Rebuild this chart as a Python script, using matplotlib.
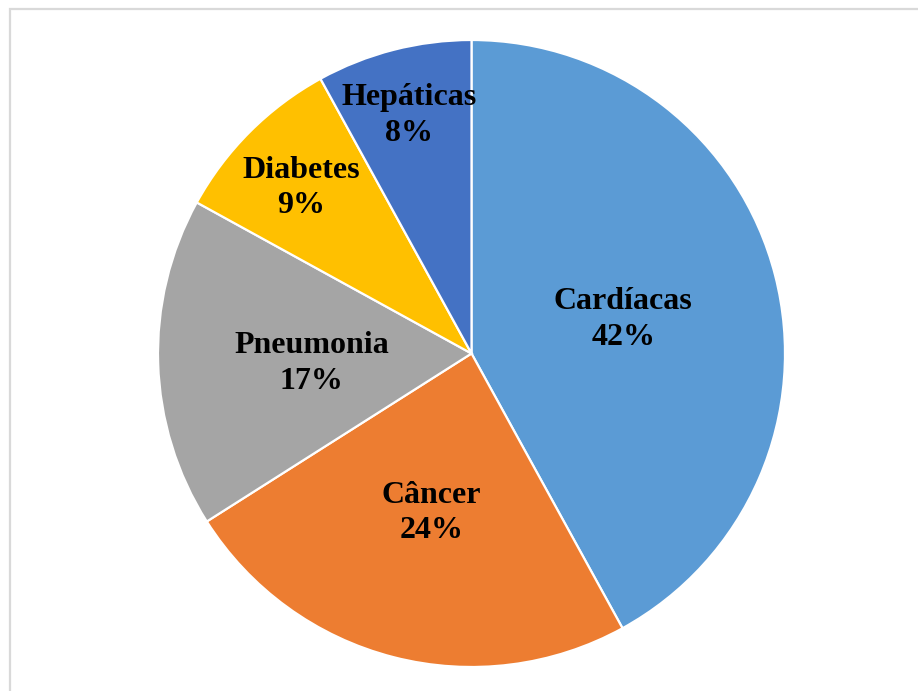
import matplotlib
matplotlib.use("Agg")
import matplotlib.pyplot as plt
import numpy as np

categories = ["Cardíacas", "Câncer", "Pneumonia", "Diabetes", "Hepáticas"]
shares = [42, 24, 17, 9, 8]
colors = ["#5B9BD5", "#ED7D31", "#A5A5A5", "#FFC000", "#4472C4"]
# radial position of each label, as a fraction of the pie radius
label_radius = [0.50, 0.51, 0.51, 0.77, 0.80]

W, H = 918, 691
fig = plt.figure(figsize=(W / 100, H / 100), dpi=100)
ax = fig.add_axes([0, 0, 1, 1])

cx, cy, R = 471.5, H - 353.5, 313.5
wedges, _ = ax.pie(shares, colors=colors, startangle=90, counterclock=False,
                   center=(cx, cy), radius=R, frame=True,
                   wedgeprops=dict(edgecolor="white", linewidth=1.6))
ax.set_xlim(0, W)
ax.set_ylim(0, H)
ax.set_aspect("auto")
ax.axis("off")

# light grey chart-area frame
ax.plot([9.5, 9.5, W + 5], [-5, H - 8.5, H - 8.5], color="#D9D9D9", lw=1.6,
        solid_joinstyle="miter")

for w, name, val, rf in zip(wedges, categories, shares, label_radius):
    ang = np.deg2rad((w.theta1 + w.theta2) / 2)
    x = cx + rf * R * np.cos(ang)
    y = cy + rf * R * np.sin(ang)
    ax.annotate(f"{name}\n{val}%", (x, y), xytext=(0, -3.6),
                textcoords="offset points", ha="center", va="center",
                family="Liberation Serif", fontweight="bold", fontsize=23,
                linespacing=1.28, color="black")

fig.savefig("out.png", dpi=100, facecolor="white")
